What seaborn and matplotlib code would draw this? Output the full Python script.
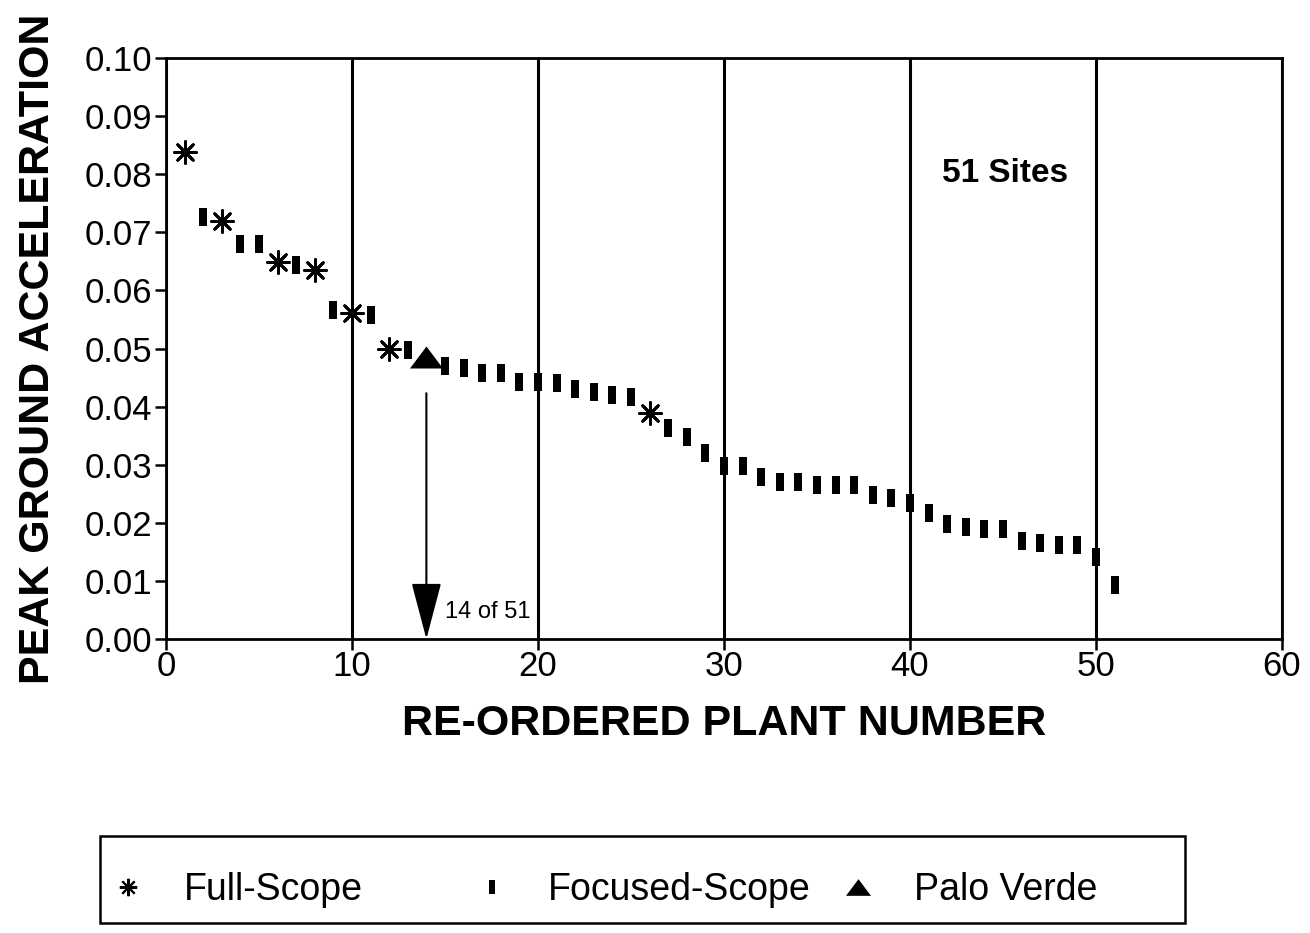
import numpy as np
import pandas as pd
import matplotlib
matplotlib.use('Agg')
import matplotlib.pyplot as plt
import seaborn as sns
from matplotlib.lines import Line2D
from matplotlib.patches import Rectangle

# Peak ground acceleration per re-ordered plant
plant_number = list(range(1, 52))
pga = [0.0838, 0.0726, 0.0719, 0.0680, 0.0680, 0.0649, 0.0644, 0.0635, 0.0566, 0.0561,
       0.0558, 0.0499, 0.0497, 0.0485, 0.0470, 0.0466, 0.0458, 0.0458, 0.0442, 0.0442,
       0.0441, 0.0430, 0.0425, 0.0420, 0.0417, 0.0389, 0.0363, 0.0348, 0.0320, 0.0298,
       0.0298, 0.0279, 0.0270, 0.0270, 0.0265, 0.0265, 0.0265, 0.0248, 0.0243, 0.0234,
       0.0217, 0.0198, 0.0193, 0.0189, 0.0189, 0.0169, 0.0165, 0.0162, 0.0162, 0.0141,
       0.0093]
full_scope_plants = [1, 3, 6, 8, 10, 12, 26]
palo_verde_plant = 14

x_ticks = [0, 10, 20, 30, 40, 50, 60]
y_ticks = [0.00, 0.01, 0.02, 0.03, 0.04, 0.05, 0.06, 0.07, 0.08, 0.09, 0.10]

data = pd.DataFrame({'Plant': plant_number, 'PGA': pga})
data['Scope'] = 'Focused-Scope'
data.loc[data['Plant'].isin(full_scope_plants), 'Scope'] = 'Full-Scope'
data.loc[data['Plant'] == palo_verde_plant, 'Scope'] = 'Palo Verde'

sns.set_style('ticks')
plt.rcParams['font.family'] = ['Liberation Sans', 'DejaVu Sans']
plt.rcParams['text.color'] = 'black'
plt.rcParams['axes.labelcolor'] = 'black'
plt.rcParams['xtick.color'] = 'black'
plt.rcParams['ytick.color'] = 'black'

# marker shapes
asterisk = (8, 2, 0)
bar_marker = [(-0.2, -0.5), (0.2, -0.5), (0.2, 0.5), (-0.2, 0.5)]
tri_marker = [(-0.75, -0.5), (0.75, -0.5), (0, 0.5)]

fig = plt.figure(figsize=(13.1, 9.33), dpi=100)
ax = fig.add_axes([0.1267, 0.3151, 0.8519, 0.6227])

sns.scatterplot(data=data[data['Scope'] == 'Focused-Scope'], x='Plant', y='PGA',
                marker=bar_marker, s=169, color='black', linewidth=0, ax=ax, zorder=4)
sns.scatterplot(data=data[data['Scope'] == 'Full-Scope'], x='Plant', y='PGA',
                marker=asterisk, s=250, color='black', linewidth=2.0, ax=ax, zorder=4)
sns.scatterplot(data=data[data['Scope'] == 'Palo Verde'], x='Plant', y='PGA',
                marker=tri_marker, s=565, color='black', linewidth=0, ax=ax, zorder=4)

# vertical grid lines
ax.grid(axis='x', color='black', linewidth=2.2)
ax.set_axisbelow(True)

ax.set_xlim(0, 60)
ax.set_ylim(0, 0.10)
ax.set_xticks(x_ticks)
ax.set_yticks(y_ticks)
ax.set_yticklabels(['%.2f' % v for v in y_ticks])
ax.tick_params(axis='both', direction='out', length=8, width=1.8, labelsize=25,
               color='black', labelcolor='black')
ax.tick_params(axis='y', pad=2)
ax.tick_params(axis='x', pad=0)
for side in ['left', 'right', 'top', 'bottom']:
    ax.spines[side].set_visible(True)
    ax.spines[side].set_color('black')
    ax.spines[side].set_linewidth(2.0)

ax.set_xlabel('RE-ORDERED PLANT NUMBER', fontsize=31, fontweight='bold', labelpad=15)
ax.set_ylabel('PEAK GROUND ACCELERATION', fontsize=31, fontweight='bold', labelpad=19)

# annotations
ax.text(45.1, 0.0802, '51 Sites', fontsize=24, fontweight='bold', ha='center', va='center')
ax.annotate('', xy=(14, 0.0), xytext=(14, 0.0423),
            arrowprops=dict(arrowstyle='-|>,head_length=3.6,head_width=0.95',
                            mutation_scale=10, lw=1.5, color='black',
                            shrinkA=0, shrinkB=0))
ax.text(15.0, 0.0046, '14 of 51', fontsize=17, ha='left', va='center')

# legend box along the bottom
legend_items = [
    ('Full-Scope', asterisk, 12.5, 1.5, 109),
    ('Focused-Scope', bar_marker, 10.5, 0, 473),
    ('Palo Verde', tri_marker, 18, 0, 839),
]
for label, mk, ms, mew, xpix in legend_items:
    h = Line2D([], [], linestyle='none', marker=mk, markersize=ms, color='black',
               markeredgewidth=mew)
    fig.legend(handles=[h], labels=[label], loc='center left',
               bbox_to_anchor=(xpix / 1310, 1 - 890 / 933), frameon=False,
               fontsize=27, handlelength=1.0, handletextpad=1.0,
               borderpad=0, borderaxespad=0, labelcolor='black')
fig.patches.append(Rectangle((100 / 1310, 1 - 923 / 933), 1085 / 1310, 87 / 933,
                             transform=fig.transFigure, fill=False,
                             edgecolor='black', linewidth=1.8))

fig.savefig('out.png', dpi=100)
